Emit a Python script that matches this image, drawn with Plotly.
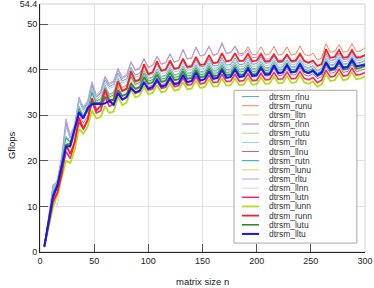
import plotly.graph_objects as go

# ---------------- data ----------------
matrix_size_n = [4, 8, 12, 16, 20, 24, 28, 32, 36, 40, 44, 48, 52, 56, 60, 64, 68, 72, 76, 80,
                 84, 88, 92, 96, 100, 104, 108, 112, 116, 120, 124, 128, 132, 136, 140, 144, 148, 152, 156, 160,
                 164, 168, 172, 176, 180, 184, 188, 192, 196, 200, 204, 208, 212, 216, 220, 224, 228, 232, 236, 240,
                 244, 248, 252, 256, 260, 264, 268, 272, 276, 280, 284, 288, 292, 296, 300]

series_names = ["dtrsm_rlnu", "dtrsm_runu", "dtrsm_lltn", "dtrsm_rlnn", "dtrsm_rutu", "dtrsm_rltn",
                "dtrsm_llnu", "dtrsm_rutn", "dtrsm_lunu", "dtrsm_rltu", "dtrsm_llnn", "dtrsm_lutn",
                "dtrsm_lunn", "dtrsm_runn", "dtrsm_lutu", "dtrsm_lltu"]

series_colors = ["#5aa0dc", "#fa8060", "#f2c27a", "#b27ccc", "#a6d38a", "#88d4f2",
                 "#cc6677", "#15a8a8", "#d8d85e", "#a3a3ff", "#d6d6d6", "#f02880",
                 "#b4dc1c", "#ff1e1e", "#2a8c2a", "#1414ff"]

series_widths = [1, 1, 1, 1, 1, 1, 1, 1, 1, 1, 1, 1.6, 1.8, 1.8, 1.6, 2.0]

rlnu = [1.3, 7.2, 14.0, 15.5, 20.5, 28.0, 25.0, 27.5, 33.2, 31.2,
        32.5, 36.5, 34.0, 34.8, 37.8, 36.3, 36.8, 39.3, 37.5, 38.0,
        40.5, 38.8, 39.2, 41.0, 39.2, 39.5, 41.3, 39.6, 39.9, 41.6,
        40.0, 40.2, 41.9, 40.3, 40.5, 42.2, 40.6, 40.8, 42.4, 40.8,
        40.9, 42.6, 41.0, 41.1, 42.6, 41.1, 41.2, 42.7, 41.2, 41.3,
        42.8, 41.4, 41.5, 43.0, 41.5, 41.6, 43.1, 41.6, 41.7, 43.2,
        41.7, 41.4, 41.9, 40.8, 41.3, 43.5, 42.0, 42.2, 43.7, 42.2,
        42.4, 43.9, 42.4, 42.6, 43.0]
runu = [1.3, 7.5, 14.8, 15.2, 20.5, 28.5, 25.0, 27.5, 33.5, 31.5,
        32.8, 37.0, 34.0, 35.0, 38.3, 36.7, 37.3, 40.0, 38.0, 38.7,
        41.5, 39.8, 40.2, 42.3, 40.4, 40.9, 42.8, 41.2, 41.5, 43.4,
        41.7, 42.0, 44.3, 42.4, 42.6, 44.8, 43.0, 43.3, 45.0, 43.2,
        43.5, 45.6, 43.6, 43.8, 45.2, 43.5, 43.6, 45.0, 43.3, 43.4,
        45.0, 43.2, 43.4, 45.1, 43.2, 43.4, 45.0, 43.2, 43.4, 45.2,
        43.4, 43.0, 43.6, 42.1, 42.5, 45.7, 43.8, 44.0, 45.5, 43.8,
        44.0, 45.7, 44.0, 44.1, 44.8]
lltn = [1.3, 6.8, 12.7, 14.7, 19.2, 24.7, 23.7, 26.7, 31.2, 29.2,
        30.7, 34.7, 32.2, 32.7, 35.7, 33.7, 34.2, 37.2, 35.2, 35.7,
        38.2, 36.5, 36.9, 38.9, 37.2, 37.5, 39.2, 37.6, 37.9, 39.6,
        38.0, 38.2, 39.9, 38.3, 38.5, 40.2, 38.6, 38.8, 40.5, 38.9,
        39.0, 40.7, 39.1, 39.2, 40.7, 39.2, 39.3, 40.8, 39.3, 39.4,
        40.9, 39.5, 39.6, 41.1, 39.6, 39.7, 41.2, 39.7, 39.8, 41.3,
        39.8, 39.5, 40.0, 38.9, 39.4, 41.6, 40.1, 40.3, 41.8, 40.3,
        40.5, 42.0, 40.5, 40.7, 41.1]
rlnn = [1.3, 7.1, 13.2, 15.2, 19.6, 25.3, 24.2, 27.4, 32.0, 30.0,
        31.6, 35.6, 33.1, 33.6, 36.6, 34.6, 35.1, 38.1, 36.1, 36.6,
        39.1, 37.4, 37.8, 39.8, 38.1, 38.4, 40.1, 38.5, 38.8, 40.5,
        38.9, 39.1, 40.8, 39.2, 39.4, 41.1, 39.5, 39.7, 41.4, 39.8,
        39.9, 41.6, 40.0, 40.1, 41.6, 40.1, 40.2, 41.7, 40.2, 40.3,
        41.8, 40.4, 40.5, 42.0, 40.5, 40.6, 42.1, 40.6, 40.7, 42.2,
        40.7, 40.4, 40.9, 39.8, 40.3, 42.5, 41.0, 41.2, 42.7, 41.2,
        41.4, 42.9, 41.4, 41.6, 42.0]
rutu = [1.3, 7.2, 13.4, 15.4, 19.9, 25.4, 24.4, 27.4, 31.9, 29.9,
        31.4, 35.4, 32.9, 33.4, 36.4, 34.4, 34.9, 37.9, 35.9, 36.4,
        38.9, 37.2, 37.6, 39.6, 37.9, 38.2, 39.9, 38.3, 38.6, 40.3,
        38.7, 38.9, 40.6, 39.0, 39.2, 40.9, 39.3, 39.5, 41.2, 39.6,
        39.7, 41.4, 39.8, 39.9, 41.4, 39.9, 40.0, 41.5, 40.0, 40.1,
        41.6, 40.2, 40.3, 41.8, 40.3, 40.4, 41.9, 40.4, 40.5, 42.0,
        40.5, 40.2, 40.7, 39.6, 40.1, 42.3, 40.8, 41.0, 42.5, 41.0,
        41.2, 42.7, 41.2, 41.4, 41.8]
rltn = [1.3, 7.0, 13.6, 15.8, 20.2, 27.5, 24.8, 27.3, 33.5, 30.8,
        32.0, 36.0, 33.5, 34.3, 37.3, 35.8, 36.3, 38.8, 37.0, 37.5,
        40.0, 38.3, 38.7, 40.5, 38.7, 39.0, 40.8, 39.1, 39.4, 41.1,
        39.5, 39.7, 41.4, 39.8, 40.0, 41.7, 40.1, 40.3, 41.9, 40.3,
        40.4, 42.1, 40.5, 40.6, 42.1, 40.6, 40.7, 42.2, 40.7, 40.8,
        42.3, 40.9, 41.0, 42.5, 41.0, 41.1, 42.6, 41.1, 41.2, 42.7,
        41.2, 40.9, 41.4, 40.3, 40.8, 43.0, 41.5, 41.7, 43.2, 41.7,
        41.9, 43.4, 41.9, 42.1, 42.5]
llnu = [1.2, 6.4, 12.0, 14.2, 18.3, 23.8, 22.8, 25.8, 30.3, 28.3,
        29.8, 33.8, 31.3, 31.8, 34.8, 32.8, 33.3, 36.3, 34.3, 34.8,
        37.3, 35.6, 36.0, 38.0, 36.3, 36.6, 38.3, 36.7, 37.0, 38.7,
        37.1, 37.3, 39.0, 37.4, 37.6, 39.3, 37.7, 37.9, 39.6, 38.0,
        38.1, 39.8, 38.2, 38.3, 39.8, 38.3, 38.4, 39.9, 38.4, 38.5,
        40.0, 38.6, 38.7, 40.2, 38.7, 38.8, 40.3, 38.8, 38.9, 40.4,
        38.9, 38.6, 39.1, 38.0, 38.5, 40.7, 39.2, 39.4, 40.9, 39.4,
        39.6, 41.1, 39.6, 39.8, 40.2]
rutn = [1.3, 7.0, 13.0, 15.0, 19.5, 25.0, 24.0, 27.0, 31.5, 29.5,
        31.0, 35.0, 32.5, 33.0, 36.0, 34.0, 34.5, 37.5, 35.5, 36.0,
        38.5, 36.8, 37.2, 39.2, 37.5, 37.8, 39.5, 37.9, 38.2, 39.9,
        38.3, 38.5, 40.2, 38.6, 38.8, 40.5, 38.9, 39.1, 40.8, 39.2,
        39.3, 41.0, 39.4, 39.5, 41.0, 39.5, 39.6, 41.1, 39.6, 39.7,
        41.2, 39.8, 39.9, 41.4, 39.9, 40.0, 41.5, 40.0, 40.1, 41.6,
        40.1, 39.8, 40.3, 39.2, 39.7, 41.9, 40.4, 40.6, 42.1, 40.6,
        40.8, 42.3, 40.8, 41.0, 41.4]
lunu = [1.1, 5.8, 10.8, 13.0, 17.3, 22.8, 21.8, 24.8, 29.3, 27.3,
        28.8, 32.8, 30.3, 30.8, 33.8, 31.8, 32.3, 35.3, 33.3, 33.8,
        36.3, 34.6, 35.0, 37.0, 35.3, 35.6, 37.3, 35.7, 36.0, 37.7,
        36.1, 36.3, 38.0, 36.4, 36.6, 38.3, 36.7, 36.9, 38.6, 37.0,
        37.1, 38.8, 37.2, 37.3, 38.8, 37.3, 37.4, 38.9, 37.4, 37.5,
        39.0, 37.6, 37.7, 39.2, 37.7, 37.8, 39.3, 37.8, 37.9, 39.4,
        37.9, 37.6, 38.1, 37.0, 37.5, 39.7, 38.2, 38.4, 39.9, 38.4,
        38.6, 40.1, 38.6, 38.8, 39.2]
rltu = [1.3, 7.2, 14.2, 15.6, 21.0, 29.2, 25.6, 28.0, 34.0, 31.8,
        33.2, 37.4, 34.4, 35.4, 38.6, 37.0, 37.6, 40.3, 38.3, 39.0,
        41.8, 40.0, 40.4, 42.5, 40.5, 41.0, 43.0, 41.2, 41.5, 43.5,
        41.6, 42.0, 44.5, 42.3, 42.5, 45.0, 43.0, 43.2, 45.2, 43.0,
        43.5, 46.0, 43.5, 43.7, 45.0, 43.0, 43.2, 44.3, 42.6, 42.7,
        43.8, 42.3, 42.4, 43.6, 42.0, 42.2, 43.4, 42.0, 42.2, 43.3,
        42.0, 41.7, 42.0, 40.8, 41.2, 43.6, 42.0, 42.2, 43.5, 42.2,
        42.3, 43.6, 42.3, 42.4, 43.3]
llnn = [1.2, 6.5, 12.0, 10.0, 17.5, 24.2, 23.2, 26.2, 30.7, 28.7,
        30.2, 34.2, 31.7, 32.2, 35.2, 33.2, 33.7, 36.7, 34.7, 35.2,
        37.7, 36.0, 36.4, 38.4, 36.7, 37.0, 38.7, 37.1, 37.4, 39.1,
        37.5, 37.7, 39.4, 37.8, 38.0, 39.7, 38.1, 38.3, 40.0, 38.4,
        38.5, 40.2, 38.6, 38.7, 40.2, 38.7, 38.8, 40.3, 38.8, 38.9,
        40.4, 39.0, 39.1, 40.6, 39.1, 39.2, 40.7, 39.2, 39.3, 40.8,
        39.3, 39.0, 39.5, 38.4, 38.9, 41.1, 39.6, 39.8, 41.3, 39.8,
        40.0, 41.5, 40.0, 40.2, 40.6]
lutn = [1.2, 6.0, 11.5, 14.5, 17.0, 22.0, 20.5, 24.0, 28.5, 27.0,
        28.8, 33.0, 30.5, 31.0, 34.0, 32.0, 32.5, 35.5, 33.5, 34.0,
        36.5, 34.8, 35.2, 37.2, 35.5, 35.8, 37.5, 35.9, 36.2, 37.9,
        36.3, 36.5, 38.2, 36.6, 36.8, 38.5, 36.9, 37.1, 38.8, 37.2,
        37.3, 39.0, 37.4, 37.5, 39.0, 37.5, 37.6, 39.1, 37.6, 37.7,
        39.2, 37.8, 37.9, 39.4, 37.9, 38.0, 39.5, 38.0, 38.1, 39.6,
        38.1, 37.8, 38.3, 37.2, 37.7, 39.9, 38.4, 38.6, 40.1, 38.6,
        38.8, 40.3, 38.8, 39.0, 39.4]
lunn = [1.0, 5.2, 9.8, 12.5, 16.0, 20.0, 19.5, 22.5, 27.0, 26.0,
        27.5, 31.0, 29.3, 29.6, 32.0, 30.5, 30.8, 34.0, 32.2, 32.8,
        35.6, 33.9, 34.3, 36.3, 34.6, 34.9, 36.6, 35.0, 35.3, 37.0,
        35.4, 35.6, 37.3, 35.7, 35.9, 37.6, 36.0, 36.2, 37.9, 36.3,
        36.4, 38.1, 36.5, 36.6, 38.1, 36.6, 36.7, 38.2, 36.7, 36.8,
        38.3, 36.9, 37.0, 38.5, 37.0, 37.1, 38.6, 37.1, 37.2, 38.7,
        37.2, 36.9, 37.4, 36.3, 36.8, 39.0, 37.5, 37.7, 39.2, 37.7,
        37.9, 39.4, 37.9, 38.1, 38.5]
runn = [1.2, 6.0, 11.0, 13.0, 17.0, 23.5, 21.5, 24.0, 29.5, 27.0,
        29.0, 33.7, 31.0, 32.0, 35.6, 33.0, 33.5, 37.4, 35.3, 35.8,
        39.6, 37.5, 37.8, 41.2, 39.0, 39.4, 41.8, 39.8, 40.0, 42.0,
        40.2, 40.4, 42.4, 40.6, 40.8, 42.8, 41.0, 41.2, 43.2, 41.4,
        41.6, 43.6, 41.8, 42.0, 43.6, 41.9, 42.0, 43.5, 41.8, 42.0,
        43.4, 41.8, 41.9, 43.3, 41.8, 41.9, 43.3, 41.9, 42.0, 43.5,
        41.9, 41.5, 42.0, 40.8, 41.2, 44.5, 42.6, 42.8, 44.3, 42.6,
        42.8, 44.3, 42.7, 42.8, 43.2]
lutu = [1.2, 6.7, 12.3, 14.6, 18.8, 23.5, 23.8, 27.0, 30.8, 29.6,
        31.0, 33.0, 32.6, 32.8, 34.0, 33.5, 33.3, 35.5, 34.2, 34.6,
        37.0, 35.8, 36.2, 38.4, 36.9, 37.2, 38.9, 37.3, 37.6, 39.3,
        37.7, 37.9, 39.6, 38.0, 38.2, 39.9, 38.3, 38.5, 40.2, 38.6,
        38.7, 40.4, 38.8, 38.9, 40.4, 38.9, 39.0, 40.5, 39.0, 39.1,
        40.6, 39.2, 39.3, 40.8, 39.3, 39.4, 40.9, 39.4, 39.5, 41.0,
        39.5, 39.2, 39.7, 38.6, 39.1, 41.3, 39.8, 40.0, 41.5, 40.0,
        40.2, 41.7, 40.2, 40.4, 40.8]
lltu = [1.2, 6.8, 12.2, 14.5, 18.5, 23.0, 23.3, 26.8, 30.6, 29.3,
        31.6, 32.4, 32.5, 32.4, 32.6, 33.2, 32.3, 34.8, 33.4, 34.0,
        35.9, 35.0, 35.4, 37.2, 35.8, 36.2, 37.8, 36.3, 36.6, 38.3,
        36.8, 37.0, 38.8, 37.2, 37.5, 39.3, 37.6, 37.9, 39.6, 38.0,
        38.2, 39.9, 38.2, 38.4, 40.0, 38.4, 38.6, 40.2, 38.6, 38.8,
        40.4, 38.9, 39.0, 40.9, 39.2, 39.4, 41.0, 39.4, 39.6, 41.2,
        39.6, 39.3, 39.8, 38.8, 39.4, 41.6, 40.1, 40.3, 41.9, 40.4,
        40.6, 42.2, 40.7, 40.9, 41.0]

series_values = [rlnu, runu, lltn, rlnn, rutu, rltn, llnu, rutn, lunu, rltu,
                 llnn, lutn, lunn, runn, lutu, lltu]

x_ticks = [0, 50, 100, 150, 200, 250, 300]
y_ticks = [0, 10, 20, 30, 40, 50, 54.4]
y_tick_labels = ["0", "10", "20", "30", "40", "50", "54.4"]

# ---------------- figure ----------------
FONT = "Liberation Sans, Arial, sans-serif"
fig = go.Figure()
for name, vals, col, w in zip(series_names, series_values, series_colors, series_widths):
    fig.add_trace(go.Scatter(x=matrix_size_n, y=vals, mode="lines", name=name,
                             line=dict(color=col, width=w), showlegend=False))

# plot frame (top/right light border)
shapes = [dict(type="rect", xref="paper", yref="paper", x0=0, x1=1, y0=0, y1=1,
               line=dict(color="#cfcfcf", width=1), layer="below")]
annotations = []

# custom compact legend (plotly's native legend cannot be this dense)
shapes.append(dict(type="rect", xref="paper", yref="paper", x0=0.597, x1=0.975,
                   y0=0.036, y1=0.652, fillcolor="white",
                   line=dict(color="#a8a8a8", width=1), layer="above"))
for i, (name, col, w) in enumerate(zip(series_names, series_colors, series_widths)):
    py = 96.7 + 9.15 * i
    yp = (252 - py) / 247.8
    shapes.append(dict(type="line", xref="paper", yref="paper", x0=0.6215, x1=0.674,
                       y0=yp, y1=yp, line=dict(color=col, width=w), layer="above"))
    annotations.append(dict(xref="paper", yref="paper", x=0.698, y=yp, text=name,
                            showarrow=False, xanchor="left", yanchor="middle",
                            font=dict(family=FONT, size=8.5, color="#333333")))

# axis titles placed as annotations in the margins
annotations.append(dict(xref="paper", yref="paper", x=0.5, y=-0.12, text="matrix size n",
                        showarrow=False, xanchor="center", yanchor="middle",
                        font=dict(family=FONT, size=9.5, color="#222222")))
annotations.append(dict(xref="paper", yref="paper", x=-0.087, y=0.43, text="Gflops",
                        showarrow=False, xanchor="center", yanchor="middle", textangle=-90,
                        font=dict(family=FONT, size=9.5, color="#222222")))

fig.update_layout(
    width=374, height=288, autosize=False,
    margin=dict(l=40, r=9, t=4, b=36),
    plot_bgcolor="white", paper_bgcolor="white",
    font=dict(family=FONT, size=9, color="#222222"),
    shapes=shapes, annotations=annotations,
    xaxis=dict(range=[0, 300], tickvals=x_ticks, ticks="inside", ticklen=8,
               tickcolor="#555555", showline=True, linecolor="#222222", linewidth=1,
               showgrid=True, gridcolor="#e2e2e2", gridwidth=1, zeroline=False,
               tickfont=dict(size=9), automargin=False, ticklabeloverflow="allow"),
    yaxis=dict(range=[0, 54.4], tickvals=y_ticks, ticktext=y_tick_labels,
               ticks="inside", ticklen=8, tickcolor="#555555", showline=True,
               linecolor="#222222", linewidth=1, showgrid=True, gridcolor="#e2e2e2",
               gridwidth=1, zeroline=False, tickfont=dict(size=9), automargin=False,
               ticklabeloverflow="allow"),
)

fig.write_html("out.html", config={"displayModeBar": False},
               post_script="document.body.style.margin='0';")
